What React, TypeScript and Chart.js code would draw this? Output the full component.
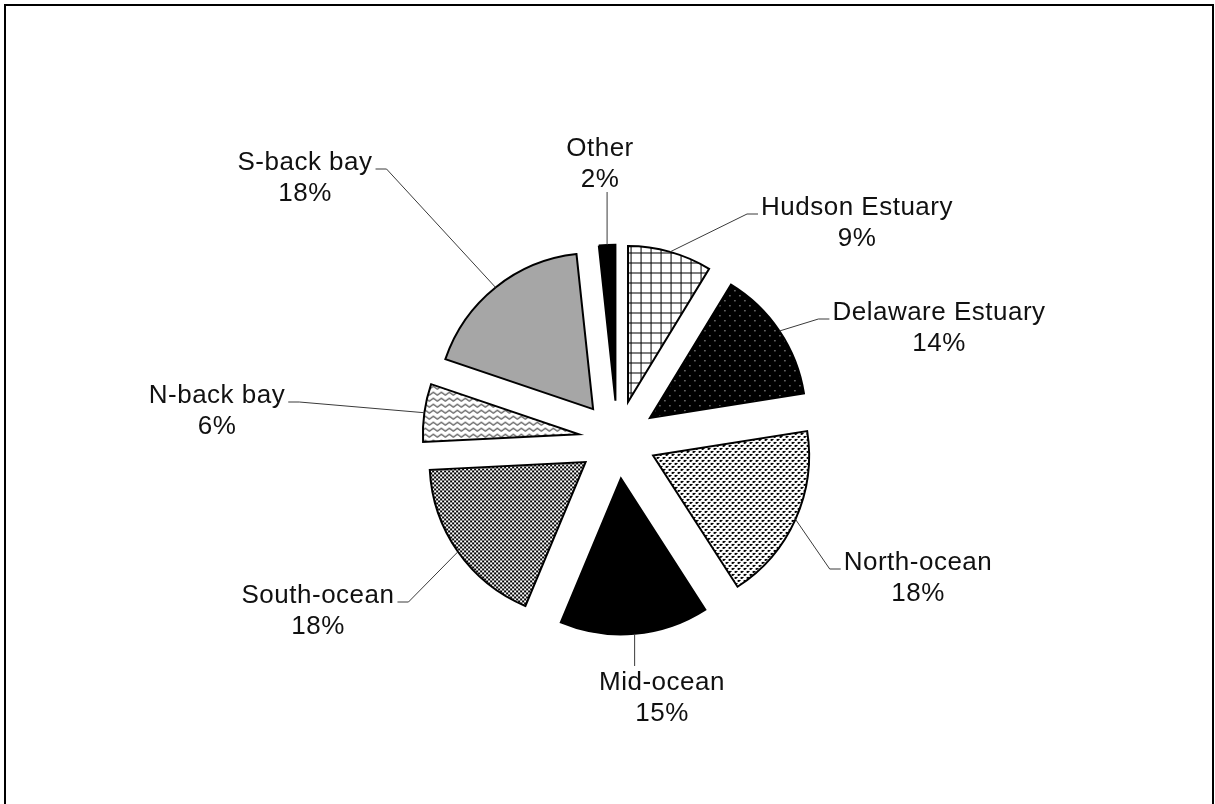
import React, { useEffect, useRef } from 'react';
import { Chart, registerables } from 'chart.js';

Chart.register(...registerables);

// ---- data ----
const CATEGORIES = [
  'Hudson Estuary',
  'Delaware Estuary',
  'North-ocean',
  'Mid-ocean',
  'South-ocean',
  'N-back bay',
  'S-back bay',
  'Other',
];
const SHARES = [8.7, 13.8, 18.4, 15.4, 17.9, 6.0, 18.1, 1.7];

// ---- styling / layout (not data) ----
const FILL_KINDS = ['grid', 'whiteDots', 'blackDots', 'solidBlack', 'crosses', 'zigzag', 'grey', 'solidBlack'];
const LABEL_LAYOUT = [
  { cx: 857, by: 215, side: 'left' },
  { cx: 939, by: 320, side: 'left' },
  { cx: 918, by: 570, side: 'left' },
  { cx: 662, by: 690, side: 'top' },
  { cx: 318, by: 603, side: 'right' },
  { cx: 217, by: 403, side: 'right' },
  { cx: 305, by: 170, side: 'right' },
  { cx: 600, by: 156, side: 'bottom' },
];
const EXPLODE = 39;
const RADIUS = 156;
const FONT = '26px "Liberation Sans", Arial, sans-serif';
const LINE_H = 31;

function makePattern(kind: string): CanvasPattern | string {
  if (kind === 'solidBlack') return '#000000';
  if (kind === 'grey') return '#a6a6a6';
  const c = document.createElement('canvas');
  const g = c.getContext('2d')!;
  if (kind === 'grid') {
    c.width = 10; c.height = 10;
    g.fillStyle = '#fff'; g.fillRect(0, 0, 10, 10);
    g.fillStyle = '#000'; g.fillRect(0, 0, 10, 1); g.fillRect(0, 0, 1, 10);
  } else if (kind === 'whiteDots') {
    c.width = 10; c.height = 10;
    g.fillStyle = '#000'; g.fillRect(0, 0, 10, 10);
    g.fillStyle = '#fff'; g.fillRect(2, 2, 1, 1); g.fillRect(7, 7, 1, 1);
  } else if (kind === 'blackDots') {
    c.width = 6; c.height = 6;
    g.fillStyle = '#fff'; g.fillRect(0, 0, 6, 6);
    g.fillStyle = '#000'; g.fillRect(0, 0, 2, 2); g.fillRect(3, 3, 2, 2);
    g.fillRect(2, 0, 1, 1); g.fillRect(5, 3, 1, 1);
  } else if (kind === 'crosses') {
    c.width = 4; c.height = 4;
    g.fillStyle = '#fff'; g.fillRect(0, 0, 4, 4);
    g.fillStyle = '#000'; g.fillRect(0, 0, 2, 2); g.fillRect(2, 2, 2, 2);
  } else if (kind === 'zigzag') {
    c.width = 8; c.height = 6;
    g.fillStyle = '#fff'; g.fillRect(0, 0, 8, 6);
    g.strokeStyle = '#000'; g.lineWidth = 1;
    g.beginPath(); g.moveTo(0, 1.5); g.lineTo(4, 4.5); g.lineTo(8, 1.5); g.stroke();
  }
  const ctx2 = document.createElement('canvas').getContext('2d')!;
  return ctx2.createPattern(c, 'repeat')!;
}

const explodePlugin = {
  id: 'explodeSlices',
  beforeDatasetDraw(chart: any, args: any) {
    const ctx = chart.ctx;
    args.meta.data.forEach((arc: any) => {
      const mid = (arc.startAngle + arc.endAngle) / 2;
      ctx.save();
      ctx.translate(Math.cos(mid) * EXPLODE, Math.sin(mid) * EXPLODE);
      arc.draw(ctx);
      ctx.restore();
    });
    return false;
  },
};

const labelPlugin = {
  id: 'leaderLabels',
  afterDatasetsDraw(chart: any) {
    const ctx = chart.ctx;
    const meta = chart.getDatasetMeta(0);
    const total = SHARES.reduce((a, b) => a + b, 0);
    ctx.save();
    ctx.font = FONT;
    (ctx as any).letterSpacing = '0.5px';
    meta.data.forEach((arc: any, i: number) => {
      const lay = LABEL_LAYOUT[i];
      const mid = (arc.startAngle + arc.endAngle) / 2;
      const r = arc.outerRadius + EXPLODE;
      const px = arc.x + Math.cos(mid) * r;
      const py = arc.y + Math.sin(mid) * r;
      const line1 = CATEGORIES[i];
      const line2 = Math.round((SHARES[i] / total) * 100) + '%';
      const w1 = ctx.measureText(line1).width;
      ctx.strokeStyle = '#3a3a3a';
      ctx.lineWidth = 1;
      ctx.beginPath();
      ctx.moveTo(px, py);
      if (lay.side === 'left') {
        const endX = lay.cx - w1 / 2 - 3;
        const y = lay.by - 1;
        ctx.lineTo(endX - 11, y);
        ctx.lineTo(endX, y);
      } else if (lay.side === 'right') {
        const endX = lay.cx + w1 / 2 + 3;
        const y = lay.by - 1;
        ctx.lineTo(endX + 11, y);
        ctx.lineTo(endX, y);
      } else if (lay.side === 'top') {
        ctx.lineTo(px, lay.by - 24);
      } else {
        ctx.lineTo(px, lay.by + LINE_H + 5);
      }
      ctx.stroke();
      ctx.fillStyle = '#111';
      ctx.textAlign = 'center';
      ctx.textBaseline = 'alphabetic';
      ctx.fillText(line1, lay.cx, lay.by);
      ctx.fillText(line2, lay.cx, lay.by + LINE_H);
    });
    ctx.restore();
  },
};

export default function App() {
  const ref = useRef<HTMLCanvasElement>(null);
  useEffect(() => {
    if (!ref.current) return;
    const fills = FILL_KINDS.map(makePattern);
    const chart = new Chart(ref.current, {
      type: 'pie',
      data: {
        labels: CATEGORIES,
        datasets: [
          {
            data: SHARES,
            backgroundColor: fills as any,
            borderColor: '#000',
            borderWidth: 2,
            borderJoinStyle: 'miter',
            radius: RADIUS,
            offset: 0,
          } as any,
        ],
      },
      options: {
        responsive: false,
        animation: false,
        devicePixelRatio: 1,
        layout: { padding: { left: 217.5, right: 197.5, top: 100, bottom: 24.8 } },
        plugins: {
          legend: { display: false },
          tooltip: { enabled: false },
        },
        events: [],
      },
      plugins: [explodePlugin, labelPlugin],
    });
    return () => chart.destroy();
  }, []);
  return (
    <div style={{ position: 'fixed', left: 0, top: 0, width: 1215, height: 804, background: '#fff', overflow: 'hidden' }}>
      <div
        style={{
          position: 'absolute',
          left: 4,
          top: 4,
          width: 1210,
          height: 900,
          boxSizing: 'border-box',
          border: '2px solid #000',
        }}
      />
      <canvas ref={ref} width={1215} height={804} style={{ position: 'absolute', left: 0, top: 0, width: 1215, height: 804 }} />
    </div>
  );
}
